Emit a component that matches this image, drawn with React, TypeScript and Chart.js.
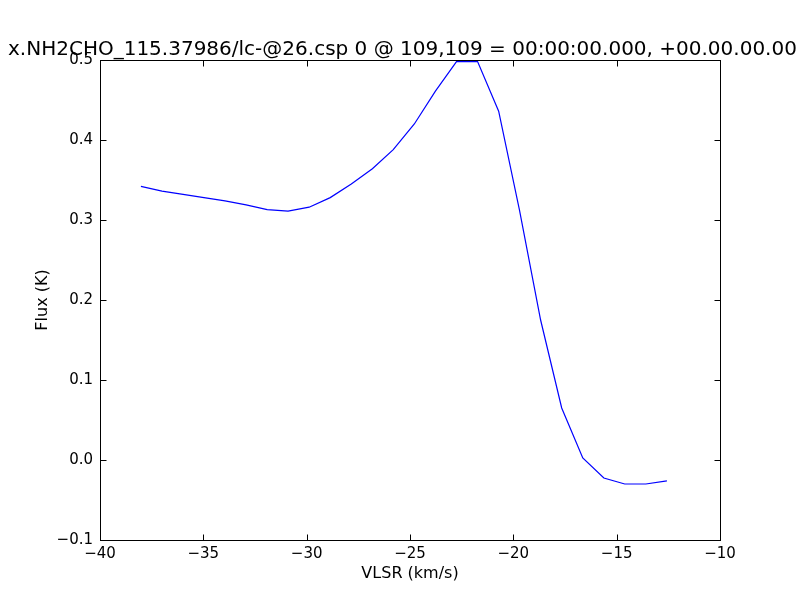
import React, { useEffect, useRef } from "react";
import { Chart, registerables } from "chart.js";

Chart.register(...registerables);

const TITLE = "x.NH2CHO_115.37986/lc-@26.csp 0 @ 109,109 = 00:00:00.000, +00.00.00.00";
const X_LABEL = "VLSR (km/s)";
const Y_LABEL = "Flux (K)";

const velocities = [
  -38.02, -37.0, -35.98, -34.97, -33.95, -32.93, -31.91, -30.9, -29.88, -28.86,
  -27.84, -26.82, -25.81, -24.79, -23.77, -22.75, -21.73, -20.71, -19.7, -18.68,
  -17.66, -16.64, -15.62, -14.61, -13.59, -12.57,
];
const flux = [
  0.342, 0.336, 0.332, 0.328, 0.324, 0.319, 0.313, 0.311, 0.316, 0.328,
  0.345, 0.364, 0.388, 0.42, 0.461, 0.498, 0.498, 0.436, 0.312, 0.175,
  0.065, 0.0025, -0.0225, -0.03, -0.03, -0.026,
];

const X_MIN = -40;
const X_MAX = -10;
const X_STEP = 5;
const Y_MIN = -0.1;
const Y_MAX = 0.5;
const Y_STEP = 0.1;

const FONT = "'DejaVu Sans', sans-serif";

function fmtNum(v: number, digits: number): string {
  if (Math.abs(v) < 1e-9) v = 0;
  const s = v.toFixed(digits);
  return s.startsWith("-") ? "\u2212" + s.slice(1) : s;
}

const framePlugin = {
  id: "mplFrame",
  afterDraw(chart: any) {
    const { ctx, chartArea } = chart;
    const { left, right, top, bottom } = chartArea;
    const xs = chart.scales.x;
    const ys = chart.scales.y;
    ctx.save();
    ctx.strokeStyle = "#000";
    ctx.lineWidth = 1;
    const L = Math.round(left) + 0.5;
    const R = Math.round(right) + 0.5;
    const T = Math.round(top) + 0.5;
    const B = Math.round(bottom) + 0.5;
    ctx.strokeRect(L, T, R - L, B - T);
    const tl = 6;
    ctx.beginPath();
    xs.ticks.forEach((t: any) => {
      const px = Math.round(xs.getPixelForValue(t.value)) + 0.5;
      ctx.moveTo(px, B);
      ctx.lineTo(px, B - tl);
      ctx.moveTo(px, T);
      ctx.lineTo(px, T + tl);
    });
    ys.ticks.forEach((t: any) => {
      const py = Math.round(ys.getPixelForValue(t.value)) + 0.5;
      ctx.moveTo(L, py);
      ctx.lineTo(L + tl, py);
      ctx.moveTo(R, py);
      ctx.lineTo(R - tl, py);
    });
    ctx.stroke();

    ctx.fillStyle = "#000";
    ctx.textAlign = "left";
    ctx.textBaseline = "alphabetic";
    ctx.font = `20px ${FONT}`;
    ctx.fillText(TITLE, 8, 55);

    ctx.textAlign = "center";
    ctx.font = `16px ${FONT}`;
    ctx.fillText(X_LABEL, (left + right) / 2, 578);
    ctx.translate(47, (top + bottom) / 2);
    ctx.rotate(-Math.PI / 2);
    ctx.fillText(Y_LABEL, 0, 0);
    ctx.restore();
  },
};

export default function App() {
  const ref = useRef<HTMLCanvasElement | null>(null);
  useEffect(() => {
    if (!ref.current) return;
    const chart = new Chart(ref.current, {
      type: "line",
      data: {
        datasets: [
          {
            data: velocities.map((v, i) => ({ x: v, y: flux[i] })),
            borderColor: "#0000ff",
            borderWidth: 1.2,
            pointRadius: 0,
            fill: false,
            tension: 0,
          },
        ],
      },
      options: {
        responsive: false,
        animation: false,
        devicePixelRatio: 1,
        layout: { padding: { left: 0, right: 80, top: 60, bottom: 0 } },
        plugins: {
          legend: { display: false },
          tooltip: { enabled: false },
          title: { display: false },
        },
        scales: {
          x: {
            type: "linear",
            min: X_MIN,
            max: X_MAX,
            grid: { display: false, drawTicks: false, tickLength: 0 },
            border: { display: false },
            ticks: {
              stepSize: X_STEP,
              color: "#000",
              font: { family: FONT, size: 15 },
              padding: 5,
              maxRotation: 0,
              callback: (v: any) => fmtNum(Number(v), 0),
            },
            afterFit: (s: any) => {
              s.height = 60;
            },
          },
          y: {
            type: "linear",
            min: Y_MIN,
            max: Y_MAX,
            grid: { display: false, drawTicks: false, tickLength: 0 },
            border: { display: false },
            ticks: {
              stepSize: Y_STEP,
              color: "#000",
              font: { family: FONT, size: 15 },
              padding: 7,
              callback: (v: any) => fmtNum(Number(v), 1),
            },
            afterFit: (s: any) => {
              s.width = 100;
            },
          },
        },
      },
      plugins: [framePlugin],
    });
    return () => chart.destroy();
  }, []);
  return (
    <div style={{ position: "absolute", left: 0, top: 0, width: 800, height: 600, background: "#fff" }}>
      <canvas ref={ref} width={800} height={600} />
    </div>
  );
}
